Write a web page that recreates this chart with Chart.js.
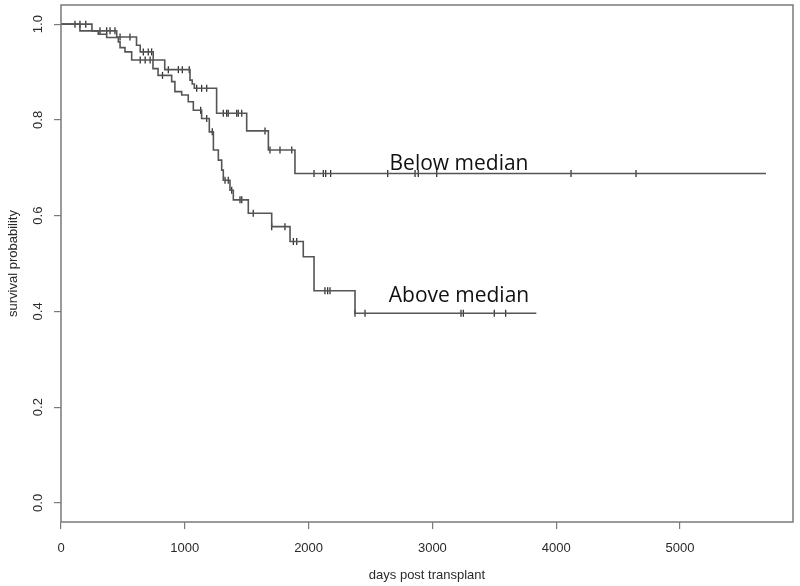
<!DOCTYPE html>
<html>
<head>
<meta charset="utf-8">
<script src="https://cdn.jsdelivr.net/npm/chart.js@4/dist/chart.umd.min.js"></script>
<style>
  html, body { margin: 0; padding: 0; background: #fff; }
  #wrap { width: 800px; height: 586px; position: relative; }
</style>
</head>
<body>
<div id="wrap"><canvas id="km"></canvas></div>
<script>
// Courbes de Kaplan-Meier : temps des événements (jours) et survie après chaque événement
const belowTimes = [0, 250, 450, 610, 640, 745, 838, 1042, 1060, 1077, 1257, 1500, 1675, 1890, 5695];
const belowSurv  = [1.0, 0.986, 0.973, 0.956, 0.942, 0.925, 0.905, 0.883, 0.875, 0.866, 0.814, 0.777, 0.737, 0.688, 0.688];
const belowCensor = [113, 153, 200, 315, 369, 396, 436, 477, 557, 665, 705, 732, 867, 948, 980, 1036,
                     1096, 1136, 1177, 1311, 1338, 1351, 1419, 1432, 1460, 1648, 1688, 1769, 1864,
                     2044, 2119, 2138, 2178, 2639, 2860, 2886, 3035, 4120, 4645];

const aboveTimes = [0, 153, 301, 369, 463, 477, 517, 571, 743, 784, 894, 920, 975, 1028, 1069, 1136,
                    1198, 1231, 1271, 1298, 1311, 1365, 1392, 1513, 1702, 1850, 1957, 2044, 2375, 3840];
const aboveSurv  = [1.0, 0.986, 0.979, 0.972, 0.963, 0.951, 0.942, 0.925, 0.907, 0.893, 0.880, 0.859, 0.852,
                    0.838, 0.820, 0.803, 0.775, 0.737, 0.716, 0.695, 0.674, 0.653, 0.633, 0.605, 0.577, 0.546,
                    0.514, 0.443, 0.396, 0.396];
const aboveCensor = [640, 680, 720, 820, 1128, 1177, 1222, 1325, 1351, 1379, 1446, 1460, 1553, 1702, 1809,
                     1877, 1904, 2132, 2154, 2173, 2375, 2456, 3231, 3250, 3500, 3592];

const groupNames = ['Below median', 'Above median'];
const xTicks = [0, 1000, 2000, 3000, 4000, 5000];
const yTicks = [0.0, 0.2, 0.4, 0.6, 0.8, 1.0];

const lineColor = '#555';
const boxColor = '#7a7a7a';
const textColor = '#2a2a2a';

/**
 * Valeur de la courbe en escalier au temps t
 */
function survivalAt(times, surv, t) {
    let s = surv[0];
    for (let i = 0; i < times.length; i++) {
        if (times[i] <= t) s = surv[i];
    }
    return s;
}

function toPoints(xs, ys) {
    return xs.map((x, i) => ({ x: x, y: ys[i] }));
}

function censorPoints(censor, times, surv) {
    return censor.map(t => ({ x: t, y: survivalAt(times, surv, t) }));
}

// Textes dessinés à la main (étiquettes des courbes, ticks verticaux, titres d'axes)
const textPlugin = {
    id: 'kmText',
    afterDraw(chart) {
        const ctx = chart.ctx;
        const area = chart.chartArea;
        const xs = chart.scales.x;
        const ys = chart.scales.y;

        ctx.save();
        // cadre du graphique
        ctx.strokeStyle = boxColor;
        ctx.lineWidth = 1.5;
        ctx.strokeRect(area.left, area.top, area.right - area.left, area.bottom - area.top);

        // étiquettes des ticks de l'axe y, tournées comme dans R
        ctx.fillStyle = textColor;
        ctx.font = '13px "Liberation Sans", Arial, sans-serif';
        ctx.textAlign = 'center';
        ctx.textBaseline = 'middle';
        yTicks.forEach(v => {
            ctx.save();
            ctx.translate(38, ys.getPixelForValue(v));
            ctx.rotate(-Math.PI / 2);
            ctx.fillText(v.toFixed(1), 0, 0);
            ctx.restore();
        });

        // titres des axes
        ctx.save();
        ctx.translate(13, (area.top + area.bottom) / 2);
        ctx.rotate(-Math.PI / 2);
        ctx.fillText('survival probability', 0, 0);
        ctx.restore();
        ctx.fillText('days post transplant', (area.left + area.right) / 2, 575);

        // noms des groupes à côté des courbes
        ctx.font = '21px "Open Sans", sans-serif';
        ctx.fillStyle = '#111';
        ctx.textBaseline = 'alphabetic';
        ctx.fillText(groupNames[0], xs.getPixelForValue(3215), ys.getPixelForValue(0.695));
        ctx.fillText(groupNames[1], xs.getPixelForValue(3215), ys.getPixelForValue(0.420));
        ctx.restore();
    }
};

const censorStyle = {
    type: 'scatter',
    showLine: false,
    pointStyle: 'line',
    rotation: 90,
    radius: 3.5,
    hoverRadius: 3.5,
    borderColor: '#333',
    borderWidth: 1.3
};

new Chart(document.getElementById('km'), {
    type: 'line',
    data: {
        datasets: [
            {
                label: groupNames[0],
                data: toPoints(belowTimes, belowSurv),
                stepped: 'before',
                borderColor: lineColor,
                borderWidth: 1.6,
                pointRadius: 0,
                fill: false
            },
            {
                label: groupNames[1],
                data: toPoints(aboveTimes, aboveSurv),
                stepped: 'before',
                borderColor: lineColor,
                borderWidth: 1.6,
                pointRadius: 0,
                fill: false
            },
            Object.assign({ label: 'censor below', data: censorPoints(belowCensor, belowTimes, belowSurv) }, censorStyle),
            Object.assign({ label: 'censor above', data: censorPoints(aboveCensor, aboveTimes, aboveSurv) }, censorStyle)
        ]
    },
    options: {
        responsive: true,
        maintainAspectRatio: false,
        animation: false,
        layout: { padding: { top: 5, right: 7, left: 0, bottom: 0 } },
        plugins: {
            legend: { display: false },
            tooltip: { enabled: false }
        },
        scales: {
            x: {
                type: 'linear',
                min: 0,
                max: 5913,
                afterBuildTicks: scale => { scale.ticks = xTicks.map(v => ({ value: v })); },
                afterFit: scale => { scale.height = 64; },
                border: { display: false },
                grid: {
                    drawOnChartArea: false,
                    drawTicks: true,
                    tickLength: 7,
                    color: boxColor,
                    lineWidth: 1.2
                },
                ticks: {
                    color: textColor,
                    padding: 12,
                    maxRotation: 0,
                    font: { family: '"Liberation Sans", Arial, sans-serif', size: 13 },
                    callback: v => String(v)
                }
            },
            y: {
                type: 'linear',
                min: -0.04,
                max: 1.04,
                afterBuildTicks: scale => { scale.ticks = yTicks.map(v => ({ value: v })); },
                afterFit: scale => { scale.width = 61; },
                border: { display: false },
                grid: {
                    drawOnChartArea: false,
                    drawTicks: true,
                    tickLength: 7,
                    color: boxColor,
                    lineWidth: 1.2
                },
                ticks: { display: false }
            }
        }
    },
    plugins: [textPlugin]
});
</script>
</body>
</html>
